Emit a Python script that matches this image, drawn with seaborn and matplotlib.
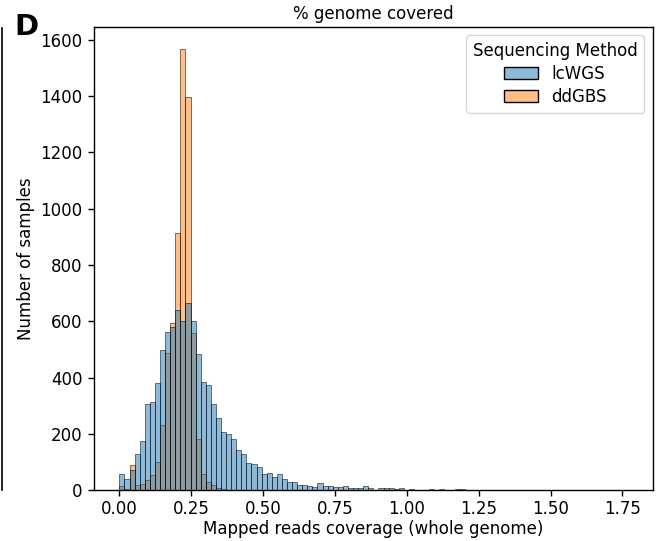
import numpy as np
import pandas as pd
import matplotlib
matplotlib.use("Agg")
import matplotlib.pyplot as plt
import seaborn as sns
from matplotlib.lines import Line2D

# histogram bins shared by both methods (100 bins from 0 to ~1.77)
bin_edges = np.linspace(0.0, 1.767, 101)
methods = ["lcWGS", "ddGBS"]

# samples per bin
lcwgs_counts = [59, 41, 73, 130, 174, 305, 314, 379, 498, 561,
                581, 640, 602, 664, 602, 484, 383, 372, 307, 255,
                207, 198, 180, 141, 127, 95, 92, 81, 57, 62,
                45, 56, 38, 30, 30, 20, 20, 14, 12, 24,
                14, 14, 12, 12, 14, 9, 6, 6, 14, 8,
                2, 7, 8, 8, 4, 6, 2, 3, 2, 1,
                1, 3, 2, 3, 1, 1, 3, 3, 2, 1,
                2, 0, 1, 2, 2, 1, 0, 1, 0, 0,
                0, 1, 0, 1, 1, 0, 0, 0, 0, 0,
                0, 0, 0, 0, 0, 0, 0, 0, 0, 1]
ddgbs_counts = [14, 3, 89, 18, 21, 36, 53, 101, 233, 486,
                593, 915, 1567, 1398, 557, 180, 57, 30, 18, 6,
                3, 2, 1] + [0] * 77

centers = (bin_edges[:-1] + bin_edges[1:]) / 2
df = pd.DataFrame({
    "coverage": np.concatenate([centers, centers]),
    "Sequencing Method": [methods[0]] * len(centers) + [methods[1]] * len(centers),
    "n": lcwgs_counts + ddgbs_counts,
})

plt.rcParams["font.family"] = ["DejaVu Sans"]
plt.rcParams["font.size"] = 12
plt.rcParams["axes.linewidth"] = 1.0
for a in ["xtick", "ytick"]:
    plt.rcParams[a + ".major.size"] = 4.2
    plt.rcParams[a + ".major.width"] = 1.0
plt.rcParams["xtick.major.pad"] = 3
plt.rcParams["ytick.major.pad"] = 4.2

fig = plt.figure(figsize=(6.62, 5.41), dpi=100)
ax = fig.add_axes([0.142, 0.094, 0.844, 0.856])

sns.histplot(data=df, x="coverage", weights="n", hue="Sequencing Method",
             hue_order=methods, bins=bin_edges.tolist(), ax=ax)

ax.set_title("% genome covered", fontsize=12)
ax.set_xlabel("Mapped reads coverage (whole genome)", fontsize=12, labelpad=1.5)
ax.set_ylabel("Number of samples", fontsize=12)
ax.tick_params(labelsize=12)
ax.set_xticks(np.arange(0, 1.76, 0.25))
ax.set_yticks(np.arange(0, 1601, 200))

sns.move_legend(ax, "upper right", labelspacing=0.3, fontsize=12,
                title_fontsize=12)

# panel letter and the edge of the neighbouring panel
fig.text(0.022, 0.935, "D", fontsize=21, fontweight="bold", va="baseline")
fig.add_artist(Line2D([0.003, 0.003], [0.948, 0.094], color="black", lw=1.2))

fig.savefig("out.png", dpi=100)
